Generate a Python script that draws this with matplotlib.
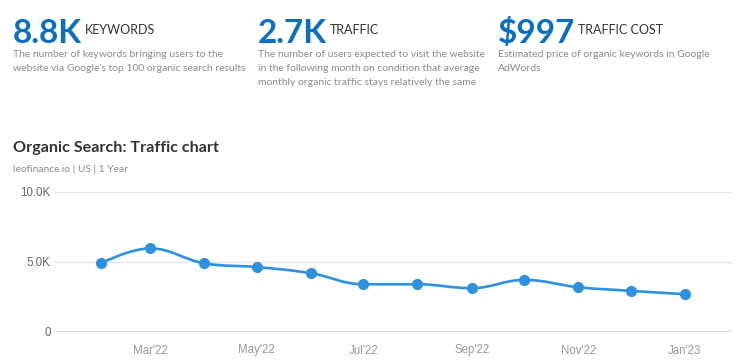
import matplotlib
matplotlib.use("Agg")
import matplotlib.pyplot as plt
import matplotlib.dates as mdates
from matplotlib.path import Path
from matplotlib.patches import PathPatch
from datetime import datetime, timedelta

W, H = 743, 364

# summary cards
card_values = ["8.8K", "2.7K", "$997"]
card_labels = ["KEYWORDS", "TRAFFIC", "TRAFFIC COST"]
card_notes = [
    ["The number of keywords bringing users to the",
     "website via Google's top 100 organic search results"],
    ["The number of users expected to visit the website",
     "in the following month on condition that average",
     "monthly organic traffic stays relatively the same"],
    ["Estimated price of organic keywords in Google",
     "AdWords"],
]

# traffic series, Feb'22 .. Jan'23
months = ["Feb'22", "Mar'22", "Apr'22", "May'22", "Jun'22", "Jul'22",
          "Aug'22", "Sep'22", "Oct'22", "Nov'22", "Dec'22", "Jan'23"]
traffic = [4910, 5970, 4910, 4640, 4200, 3410,
           3410, 3130, 3720, 3200, 2940, 2700]
tick_months = ["Mar'22", "May'22", "Jul'22", "Sep'22", "Nov'22", "Jan'23"]
y_ticks = [0, 5000, 10000]
y_ticklabels = ["0", "5.0K", "10.0K"]

BLUE = "#0b6fc1"
LINE = "#2e90e0"
DARK = "#333333"
GREY = "#8c8c8c"

plt.rcParams['font.family'] = ['Lato', 'DejaVu Sans']

fig = plt.figure(figsize=(W / 100, H / 100), dpi=100)


def fx(px):
    return px / W


def fy(py):
    return 1 - py / H


renderer = fig.canvas.get_renderer()
card_x = [13, 258, 498]
for i in range(3):
    big = fig.text(fx(card_x[i]), fy(43), card_values[i], fontsize=24, fontweight='bold',
                   color=BLUE, va='baseline', ha='left')
    right = big.get_window_extent(renderer).x1
    fig.text(fx(right + 3), fy(34.5), card_labels[i], fontsize=9.0, color=DARK,
             va='baseline', ha='left')
    for j, line in enumerate(card_notes[i]):
        fig.text(fx(card_x[i]), fy(54.5 + 14 * j), line, fontsize=7.45, color=GREY,
                 va='center', ha='left')

fig.text(fx(13), fy(148), "Organic Search: Traffic chart", fontsize=11.6, fontweight='bold',
         color=DARK, va='center', ha='left')
fig.text(fx(13), fy(170), "leofinance.io | US | 1 Year", fontsize=7.4, color=GREY,
         va='center', ha='left')

ax = fig.add_axes([fx(55), fy(332), fx(732) - fx(55), (332 - 192) / H])

# datetime axis: month strings -> first day of the month
dates = [datetime.strptime(m, "%b'%y") for m in months]
x = list(mdates.date2num(dates))
ax.set_xlim(mdates.date2num(dates[0] - timedelta(days=26.3)),
            mdates.date2num(dates[-1] + timedelta(days=26.9)))
ax.set_ylim(0, 10000)

# spline like the web chart (bezier control points from neighbours)
sm = 1.5
pts = list(zip(x, traffic))
lc, rc = [None] * len(pts), [None] * len(pts)
for i, (px, py) in enumerate(pts):
    if 0 < i < len(pts) - 1:
        lx, ly = pts[i - 1]
        nx, ny = pts[i + 1]
        lcx, lcy = (sm * px + lx) / (sm + 1), (sm * py + ly) / (sm + 1)
        rcx, rcy = (sm * px + nx) / (sm + 1), (sm * py + ny) / (sm + 1)
        corr = (rcy - lcy) * (rcx - px) / (rcx - lcx) + py - rcy
        lcy += corr
        rcy += corr
        if lcy > ly and lcy > py:
            lcy = max(ly, py)
            rcy = 2 * py - lcy
        elif lcy < ly and lcy < py:
            lcy = min(ly, py)
            rcy = 2 * py - lcy
        if rcy > ny and rcy > py:
            rcy = max(ny, py)
            lcy = 2 * py - rcy
        elif rcy < ny and rcy < py:
            rcy = min(ny, py)
            lcy = 2 * py - rcy
        lc[i], rc[i] = (lcx, lcy), (rcx, rcy)
    else:
        lc[i], rc[i] = (px, py), (px, py)

verts = [pts[0]]
codes = [Path.MOVETO]
for i in range(1, len(pts)):
    verts += [rc[i - 1], lc[i], pts[i]]
    codes += [Path.CURVE4] * 3
ax.add_patch(PathPatch(Path(verts, codes), facecolor='none', edgecolor=LINE,
                       lw=1.9, capstyle='round', joinstyle='round', zorder=3))
ax.plot(x, traffic, 'o', color=LINE, markersize=7, zorder=4)

for s in ax.spines.values():
    s.set_visible(False)
ax.set_yticks(y_ticks)
ax.set_yticklabels(y_ticklabels, family=['Liberation Sans', 'DejaVu Sans'])
ax.set_xticks([x[months.index(m)] for m in tick_months])
ax.set_xticklabels(tick_months, family=['Liberation Sans', 'DejaVu Sans'])
ax.tick_params(axis='y', length=0, pad=3, labelsize=8.3, labelcolor='#666666')
ax.tick_params(axis='x', length=0, pad=9, labelsize=8.3, labelcolor='#999999')
ax.grid(axis='y', color='#e6e6e6', lw=1)
ax.axhline(0, color='#ccd6eb', lw=1.2, zorder=2)
ax.set_axisbelow(True)

fig.savefig("out.png", dpi=100)
